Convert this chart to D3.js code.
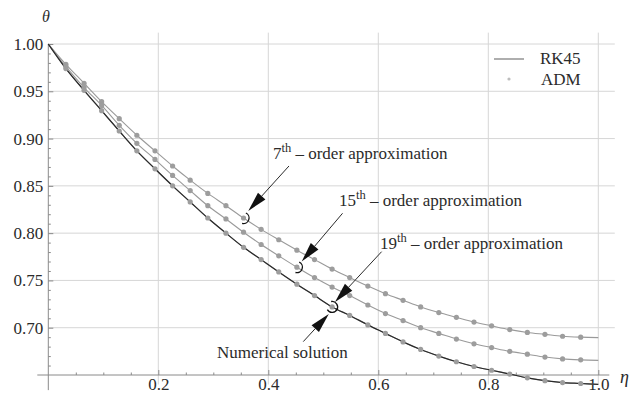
<!DOCTYPE html>
<html>
<head>
<meta charset="utf-8">
<script src="https://cdn.jsdelivr.net/npm/d3@7"></script>
<style>
  html, body { margin: 0; padding: 0; background: #fff; }
  svg text { font-family: "Liberation Serif", "Times New Roman", serif; fill: #2b2b2b; }
</style>
</head>
<body>
<svg id="chart" width="632" height="394"></svg>
<script>
// eta values of the plotted ADM dots (first and last entries are the curve ends)
const etaValues = [0, 0.032, 0.065, 0.097, 0.129, 0.161, 0.194, 0.226, 0.258, 0.290, 0.323,
  0.355, 0.387, 0.419, 0.452, 0.484, 0.516, 0.548, 0.581, 0.613, 0.645,
  0.677, 0.710, 0.742, 0.774, 0.806, 0.839, 0.871, 0.903, 0.935, 0.968, 1.0];

// numerical solution (RK45)
const rk45 = [1.000, 0.974, 0.951, 0.9295, 0.908, 0.887, 0.868, 0.850, 0.833, 0.816, 0.800,
  0.785, 0.772, 0.759, 0.746, 0.734, 0.722, 0.713, 0.703, 0.694, 0.685,
  0.677, 0.670, 0.664, 0.659, 0.655, 0.651, 0.647, 0.644, 0.642, 0.641, 0.640];

// ADM approximations
const adm7 = [1.000, 0.9785, 0.9585, 0.939, 0.921, 0.9035, 0.887, 0.871, 0.856, 0.842, 0.829,
  0.816, 0.804, 0.793, 0.782, 0.772, 0.762, 0.753, 0.744, 0.736, 0.729,
  0.722, 0.716, 0.711, 0.706, 0.702, 0.698, 0.695, 0.693, 0.691, 0.690, 0.6895];
const adm15 = [1.000, 0.976, 0.954, 0.935, 0.914, 0.895, 0.878, 0.861, 0.845, 0.829, 0.815,
  0.801, 0.788, 0.776, 0.764, 0.753, 0.743, 0.734, 0.724, 0.715, 0.7075,
  0.700, 0.694, 0.688, 0.683, 0.679, 0.675, 0.672, 0.669, 0.667, 0.666, 0.6655];
const adm19 = [1.000, 0.974, 0.951, 0.9295, 0.908, 0.887, 0.868, 0.850, 0.833, 0.816, 0.800,
  0.785, 0.772, 0.759, 0.746, 0.734, 0.722, 0.713, 0.703, 0.694, 0.685,
  0.677, 0.670, 0.664, 0.659, 0.655, 0.651, 0.647, 0.644, 0.642, 0.641, 0.640];

const yTicks = [0.70, 0.75, 0.80, 0.85, 0.90, 0.95, 1.00];
const xTicks = [0.2, 0.4, 0.6, 0.8, 1.0];

const serif = '"Liberation Serif", "Times New Roman", serif';
const fontSize = "17px";

const svg = d3.select("#chart");

const x = d3.scaleLinear().domain([0, 1]).range([48.3, 598.3]);
const y = d3.scaleLinear().domain([0.65, 1.0]).range([375, 44]);

// Grid lines
const grid = svg.append("g").attr("stroke", "#d6d6d6").attr("stroke-width", 1);
grid.selectAll(".gy").data(yTicks).join("line")
  .attr("x1", x(0)).attr("x2", x(1.03))
  .attr("y1", d => y(d)).attr("y2", d => y(d));
grid.selectAll(".gx").data(xTicks).join("line")
  .attr("x1", d => x(d)).attr("x2", d => x(d))
  .attr("y1", y(1.012)).attr("y2", y(0.64));

// Axes
const axisColor = "#8a8a8a";
svg.append("line")
  .attr("x1", x(-0.02)).attr("x2", x(1.02))
  .attr("y1", y(0.65)).attr("y2", y(0.65))
  .attr("stroke", axisColor);
svg.append("line")
  .attr("x1", x(0)).attr("x2", x(0))
  .attr("y1", y(1.0)).attr("y2", y(0.634))
  .attr("stroke", axisColor);

const yAxis = svg.append("g").attr("transform", `translate(${x(0)},0)`)
  .call(d3.axisLeft(y).tickValues(yTicks).tickSize(-5).tickPadding(5).tickFormat(d3.format(".2f")));
const yMinor = svg.append("g").attr("transform", `translate(${x(0)},0)`)
  .call(d3.axisLeft(y).tickValues(d3.range(0.66, 1.0, 0.01).filter(v => Math.abs(v * 20 - Math.round(v * 20)) > 1e-6))
    .tickSize(-2.5).tickFormat(""));
const xAxis = svg.append("g").attr("transform", `translate(0,${y(0.65)})`)
  .call(d3.axisBottom(x).tickValues(xTicks).tickSize(-5).tickPadding(0).tickFormat(d3.format(".1f")));
const xMinor = svg.append("g").attr("transform", `translate(0,${y(0.65)})`)
  .call(d3.axisBottom(x).tickValues([0.05, 0.1, 0.15, 0.25, 0.3, 0.35, 0.45, 0.5, 0.55, 0.65, 0.7, 0.75, 0.85, 0.9, 0.95])
    .tickSize(-2.5).tickFormat(""));
[yAxis, yMinor, xAxis, xMinor].forEach(g => {
  g.attr("font-family", null).attr("font-size", null);
  g.select(".domain").remove();
  g.selectAll(".tick line").attr("stroke", axisColor);
  g.selectAll("text").style("font-family", serif).style("font-size", fontSize).attr("fill", "#2b2b2b");
});
// tick labels sit just above the bottom edge (the original crops them slightly)
xAxis.selectAll("text").attr("y", 389.5 - y(0.65)).attr("dy", null);

// Axis names
svg.append("text").attr("x", 620).attr("y", 383)
  .style("font-size", "18px").style("font-style", "italic").text("η");
svg.append("text").attr("x", 46).attr("y", 22).attr("text-anchor", "middle")
  .style("font-size", "16px").style("font-style", "italic").text("θ");

// Curves
const line = d3.line()
  .x((d, i) => x(etaValues[i]))
  .y(d => y(d))
  .curve(d3.curveMonotoneX);

const admSeries = [adm7, adm15, adm19];
svg.selectAll(".adm-line").data(admSeries).join("path")
  .attr("fill", "none").attr("stroke", "#9a9a9a").attr("stroke-width", 1.1)
  .attr("d", line);

svg.append("path").datum(rk45)
  .attr("fill", "none").attr("stroke", "#2a2a2a").attr("stroke-width", 1.2)
  .attr("d", line);

admSeries.forEach(s => {
  svg.append("g").selectAll("circle")
    .data(s.slice(1, s.length - 1))
    .join("circle")
    .attr("cx", (d, i) => x(etaValues[i + 1]))
    .attr("cy", d => y(d))
    .attr("r", 2.6)
    .attr("fill", "#9d9d9d");
});

// Legend
svg.append("line").attr("x1", 494).attr("x2", 524).attr("y1", 59).attr("y2", 59)
  .attr("stroke", "#777").attr("stroke-width", 1.2);
svg.append("text").attr("x", 540).attr("y", 64).style("font-size", fontSize).text("RK45");
svg.append("circle").attr("cx", 509).attr("cy", 79).attr("r", 1.6).attr("fill", "#bdbdbd");
svg.append("text").attr("x", 541).attr("y", 85).style("font-size", fontSize).text("ADM");

// Annotations: label position, arrow start, arrow tip, marked point (data coords)
const notes = [
  { sup: "7", tx: 0.4085, ty: 0.8784, from: [0.4376, 0.871], to: [0.3636, 0.8235], at: [etaValues[11], adm7[11]], a0: -65, a1: 105 },
  { sup: "15", tx: 0.5285, ty: 0.8288, from: [0.535, 0.821], to: [0.4607, 0.770], at: [etaValues[14], adm15[14]], a0: -65, a1: 105 },
  { sup: "19", tx: 0.603, ty: 0.7833, from: [0.606, 0.7804], to: [0.5213, 0.7273], at: [etaValues[16], adm19[16]], a0: -100, a1: 30 }
];

function arrow(from, to) {
  const x0 = x(from[0]), y0 = y(from[1]), x1 = x(to[0]), y1 = y(to[1]);
  const dx = x1 - x0, dy = y1 - y0, len = Math.hypot(dx, dy);
  const ux = dx / len, uy = dy / len, hl = 20, hw = 5;
  const bx = x1 - ux * hl, by = y1 - uy * hl;
  svg.append("line").attr("x1", x0).attr("y1", y0).attr("x2", bx).attr("y2", by)
    .attr("stroke", "#2a2a2a").attr("stroke-width", 1);
  svg.append("path")
    .attr("d", `M${x1},${y1}L${bx - uy * hw},${by + ux * hw}L${bx + uy * hw},${by - ux * hw}Z`)
    .attr("fill", "#111");
}

function hook(at, a0, a1) {
  const p = d3.path();
  const r = 5.5, cx = x(at[0]), cy = y(at[1]);
  p.arc(cx, cy, r, a0 * Math.PI / 180, a1 * Math.PI / 180);
  svg.append("path").attr("d", p.toString())
    .attr("fill", "none").attr("stroke", "#111").attr("stroke-width", 1.3);
}

notes.forEach(n => {
  const t = svg.append("text").attr("x", x(n.tx)).attr("y", y(n.ty)).style("font-size", fontSize);
  t.append("tspan").text(n.sup);
  t.append("tspan").attr("dy", -7).style("font-size", "12.5px").text("th");
  t.append("tspan").attr("dy", 7).text(" – order approximation");
  arrow(n.from, n.to);
  hook(n.at, n.a0, n.a1);
});

// Numerical solution note
svg.append("text").attr("x", x(0.3067)).attr("y", y(0.668)).style("font-size", fontSize).text("Numerical solution");
arrow([0.4636, 0.6853], [0.510, 0.7146]);
hook([etaValues[16], rk45[16]], 20, 150);
</script>
</body>
</html>
